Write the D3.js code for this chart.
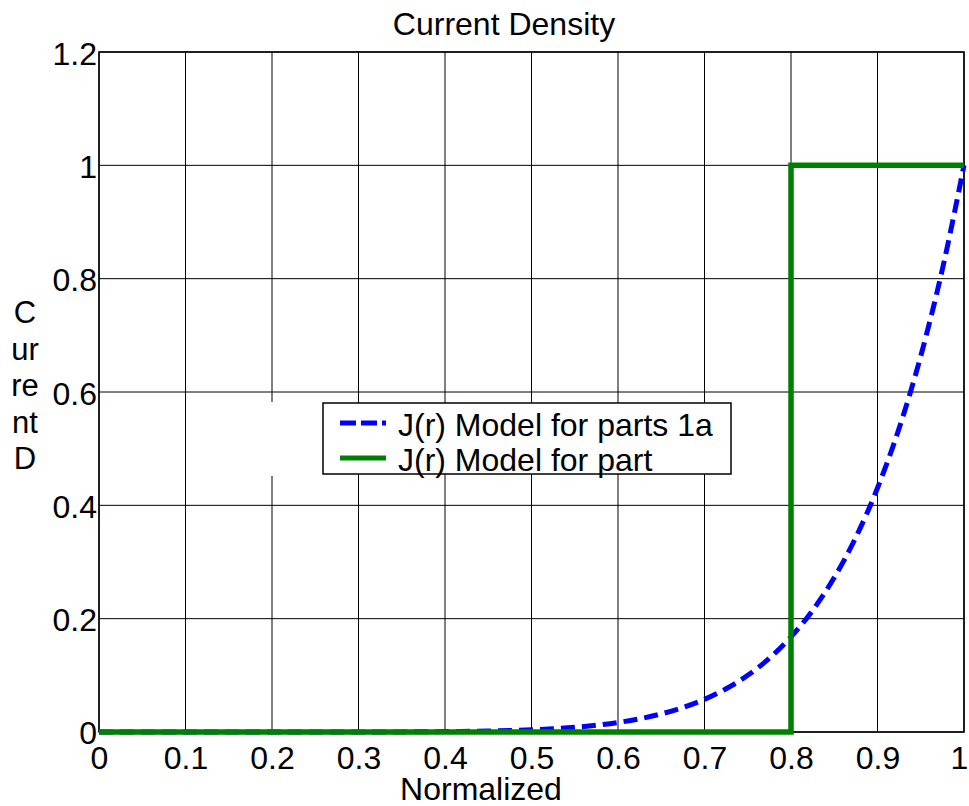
<!DOCTYPE html>
<html>
<head>
<meta charset="utf-8">
<script src="https://cdn.jsdelivr.net/npm/d3@7"></script>
<style>
  html, body { margin: 0; padding: 0; background: #fff; }
  text { font-family: "Liberation Sans", Arial, sans-serif; fill: #000; }
</style>
</head>
<body>
<svg id="chart" width="969" height="806"></svg>
<script>
// ---- data ----
const title = "Current Density";
const xLabel = "Normalized";
const yLabelLines = ["C", "ur", "re", "nt", "D"];
const xTicks = [0, 0.1, 0.2, 0.3, 0.4, 0.5, 0.6, 0.7, 0.8, 0.9, 1];
const yTicks = [0, 0.2, 0.4, 0.6, 0.8, 1, 1.2];
const seriesNames = ["J(r) Model for parts 1a", "J(r) Model for part"];

// series 1 (blue dashed)
const rCurve = [0, 0.05, 0.1, 0.15, 0.2, 0.25, 0.3, 0.35, 0.4, 0.45, 0.5, 0.525, 0.55, 0.575, 0.6, 0.625, 0.65, 0.675, 0.7, 0.725, 0.75, 0.775, 0.8, 0.825, 0.85, 0.875, 0.9, 0.925, 0.95, 0.975, 1];
const jCurve = [0, 0, 0, 0, 0, 0, 0.0001, 0.0002, 0.0007, 0.0017, 0.0039, 0.0058, 0.0084, 0.012, 0.0168, 0.0233, 0.0319, 0.0431, 0.0576, 0.0763, 0.1001, 0.1301, 0.1678, 0.2146, 0.2725, 0.3436, 0.4305, 0.536, 0.6634, 0.8167, 1];

// series 2 (green step)
const rStep = [0, 0.8, 0.8, 1];
const jStep = [0, 0, 1, 1];

// ---- layout ----
const svg = d3.select("#chart");
const pLeft = 99, pRight = 964, pTop = 52, pBottom = 732;
const x = d3.scaleLinear().domain([0, 1]).range([pLeft, pRight]);
const y = d3.scaleLinear().domain([0, 1.2]).range([pBottom, pTop]);
const fs = 32;
const ff = "Liberation Sans, Arial, sans-serif";

// grid
const grid = svg.append("g");
grid.selectAll(".vg").data(xTicks).join("line")
  .attr("x1", d => x(d)).attr("x2", d => x(d))
  .attr("y1", pTop).attr("y2", pBottom)
  .attr("stroke", "#000").attr("stroke-width", 1);
grid.selectAll(".hg").data(yTicks).join("line")
  .attr("x1", pLeft).attr("x2", pRight)
  .attr("y1", d => y(d)).attr("y2", d => y(d))
  .attr("stroke", "#000").attr("stroke-width", 1);

// axes (labels only, MATLAB style)
const xAxis = d3.axisBottom(x).tickValues(xTicks).tickSize(0).tickPadding(0)
  .tickFormat(d => d3.format("~g")(d));
const gx = svg.append("g").attr("transform", `translate(0,${pBottom})`).call(xAxis);
gx.select(".domain").remove();
gx.selectAll("text").attr("dy", null).attr("y", 37)
  .attr("x", d => d === 1 ? -5 : 0)
  .style("font-size", fs + "px").style("font-family", ff).attr("fill", "#000");

const yAxis = d3.axisLeft(y).tickValues(yTicks).tickSize(0).tickPadding(0)
  .tickFormat(d => d3.format("~g")(d));
const gy = svg.append("g").attr("transform", `translate(${pLeft - 2},0)`).call(yAxis);
gy.select(".domain").remove();
gy.selectAll("text").attr("dy", null).attr("y", d => d === 0 ? 11 : 12).attr("x", 0)
  .style("font-size", fs + "px").style("font-family", ff).attr("fill", "#000");

// white patch (legend artifact)
svg.append("rect").attr("x", x(0.19)).attr("y", 402).attr("width", 62).attr("height", 74).attr("fill", "#fff");

// box
svg.append("rect").attr("x", pLeft).attr("y", pTop).attr("width", pRight - pLeft).attr("height", pBottom - pTop)
  .attr("fill", "none").attr("stroke", "#000").attr("stroke-width", 1.5);

// lines
svg.append("path")
  .datum(rCurve.map((r, i) => [r, jCurve[i]]))
  .attr("d", d3.line().x(d => x(d[0])).y(d => y(d[1])).curve(d3.curveMonotoneX))
  .attr("fill", "none").attr("stroke", "#0000ff").attr("stroke-width", 5)
  .attr("stroke-dasharray", "14,7");
svg.append("path")
  .datum(rStep.map((r, i) => [r, jStep[i]]))
  .attr("d", d3.line().x(d => x(d[0])).y(d => y(d[1])))
  .attr("fill", "none").attr("stroke", "#008000").attr("stroke-width", 5.5);

// title & labels
svg.append("text").attr("x", 504).attr("y", 35).attr("text-anchor", "middle")
  .style("font-size", fs + "px").text(title);
svg.append("text").attr("x", 481).attr("y", 800).attr("text-anchor", "middle")
  .style("font-size", fs + "px").text(xLabel);
svg.selectAll(".yl").data(yLabelLines).join("text")
  .attr("x", 25).attr("y", (d, i) => 323 + i * 36.5).attr("text-anchor", "middle")
  .style("font-size", "31px").text(d => d);

// legend
const lg = svg.append("g");
lg.append("rect").attr("x", 323).attr("y", 403).attr("width", 408).attr("height", 71)
  .attr("fill", "#fff").attr("stroke", "#000").attr("stroke-width", 1.5);
const legColors = ["#0000ff", "#008000"];
const legDash = ["16,5", null];
seriesNames.forEach((name, i) => {
  const ly = 423 + i * 35;
  lg.append("line").attr("x1", 340).attr("x2", 386).attr("y1", ly).attr("y2", ly)
    .attr("stroke", legColors[i]).attr("stroke-width", 5)
    .attr("stroke-dasharray", legDash[i]);
  lg.append("text").attr("x", 398).attr("y", ly + 13).style("font-size", fs + "px").text(name);
});
</script>
</body>
</html>
